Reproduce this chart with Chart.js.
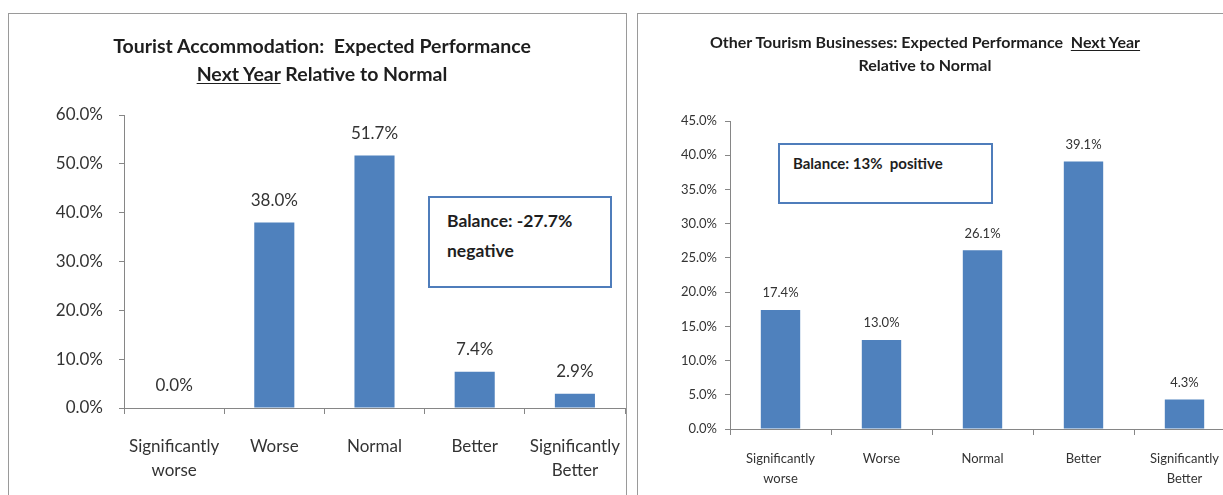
<!DOCTYPE html>
<html>
<head>
<meta charset="utf-8">
<script src="https://cdn.jsdelivr.net/npm/chart.js@4/dist/chart.umd.min.js"></script>
<style>
  html, body { margin: 0; padding: 0; background: #fff; }
  body { width: 1223px; height: 495px; overflow: hidden; position: relative; font-family: Lato, "Open Sans", sans-serif; }
  .frame { position: absolute; border: 1px solid #9a9a9a; background: #fff; }
  .title { position: absolute; text-align: center; font-weight: bold; color: #1e1e1e; white-space: nowrap; }
  .title u { text-decoration-thickness: 1px; text-underline-offset: 2px; }
  .balance { position: absolute; border: 2px solid #4f7dbb; background: #fff; font-weight: bold; color: #1e1e1e; box-sizing: border-box; white-space: nowrap; }
  canvas { position: absolute; }
</style>
</head>
<body>
<div class="frame" style="left:8px; top:13px; width:617px; height:520px;"></div>
<div class="frame" style="left:637px; top:13px; width:620px; height:520px;"></div>

<div id="wrapLeft" style="position:absolute; left:0; top:0; width:632px; height:495px;"><canvas id="leftChart"></canvas></div>
<div id="wrapRight" style="position:absolute; left:640px; top:0; width:600px; height:495px;"><canvas id="rightChart"></canvas></div>

<div class="title" style="left:12px; top:32px; width:620px; font-size:19.5px; line-height:28px;">
  Tourist Accommodation:&nbsp; Expected Performance<br><u>Next Year</u> Relative to Normal
</div>
<div class="title" style="left:625px; top:30px; width:600px; font-size:16px; line-height:23px;">
  Other Tourism Businesses: Expected Performance&nbsp; <u>Next Year</u><br>Relative to Normal
</div>

<div class="balance" style="left:428px; top:196px; width:184px; height:92px; font-size:17.5px; line-height:30px; padding:8px 0 0 17px;">
  Balance: -27.7%<br>negative
</div>
<div class="balance" style="left:778px; top:143px; width:215px; height:61px; font-size:15px; line-height:20px; padding:8px 0 0 13px;">
  Balance: 13%&nbsp; positive
</div>

<script>
const categories = [["Significantly", "worse"], "Worse", "Normal", "Better", ["Significantly", "Better"]];
const accommodationValues = [0.0, 38.0, 51.7, 7.4, 2.9];
const otherBusinessValues = [17.4, 13.0, 26.1, 39.1, 4.3];
const accommodationAxis = { max: 60, step: 10 };
const otherBusinessAxis = { max: 45, step: 5 };

const barColor = "#4f81bd";
const axisColor = "#868686";
const labelColor = "#333333";
const fontFamily = "Lato, 'Open Sans', sans-serif";

const pct = (v) => v.toFixed(1) + "%";

// draws the value above each bar
const valueLabels = {
  id: "valueLabels",
  afterDatasetsDraw(chart, args, opts) {
    const c = chart.ctx;
    const meta = chart.getDatasetMeta(0);
    c.save();
    c.font = opts.size + "px " + fontFamily;
    c.fillStyle = labelColor;
    c.textAlign = "center";
    c.textBaseline = "middle";
    meta.data.forEach((bar, i) => {
      c.fillText(pct(chart.data.datasets[0].data[i]), bar.x, bar.y - opts.offset);
    });
    c.restore();
  },
};

function makeChart(id, values, axis, cfg) {
  return new Chart(document.getElementById(id), {
    type: "bar",
    data: {
      labels: categories,
      datasets: [{
        data: values,
        backgroundColor: barColor,
        borderWidth: 0,
        barPercentage: cfg.barPct,
        categoryPercentage: 1.0,
      }],
    },
    options: {
      responsive: true,
      maintainAspectRatio: false,
      animation: false,
      layout: { padding: { left: 0, right: cfg.padRight, top: cfg.top, bottom: 0 } },
      plugins: {
        legend: { display: false },
        tooltip: { enabled: false },
        valueLabels: { size: cfg.dataFont, offset: cfg.dataOffset },
      },
      scales: {
        x: {
          grid: { drawOnChartArea: false, tickLength: 6, color: axisColor, offset: true },
          border: { color: axisColor },
          ticks: {
            color: labelColor,
            font: { family: fontFamily, size: cfg.xFont, lineHeight: cfg.xLine },
            padding: cfg.xPad,
            maxRotation: 0,
            autoSkip: false,
          },
          afterFit: (s) => {
            s.height = cfg.xHeight;
            // keep the plot edges where the layout padding puts them
            s.paddingLeft = 0;
            s.paddingRight = 0;
          },
        },
        y: {
          min: 0,
          max: axis.max,
          grid: { drawOnChartArea: false, tickLength: 5, color: axisColor },
          border: { color: axisColor },
          ticks: {
            stepSize: axis.step,
            color: labelColor,
            font: { family: fontFamily, size: cfg.yFont },
            padding: cfg.yPad,
            callback: (v) => pct(v),
          },
          afterFit: (s) => { s.width = cfg.yWidth; },
        },
      },
    },
    plugins: [valueLabels],
  });
}

makeChart("leftChart", accommodationValues, accommodationAxis, {
  barPct: 0.4, padRight: 7, top: 115, xHeight: 87, yWidth: 124,
  xFont: 17, xLine: 1.38, xPad: 21, yFont: 17, yPad: 16,
  dataFont: 17, dataOffset: 22,
});

makeChart("rightChart", otherBusinessValues, otherBusinessAxis, {
  barPct: 0.39, padRight: 5, top: 121, xHeight: 66, yWidth: 90,
  xFont: 13, xLine: 1.55, xPad: 14, yFont: 13, yPad: 8,
  dataFont: 13, dataOffset: 17,
});
</script>
</body>
</html>
